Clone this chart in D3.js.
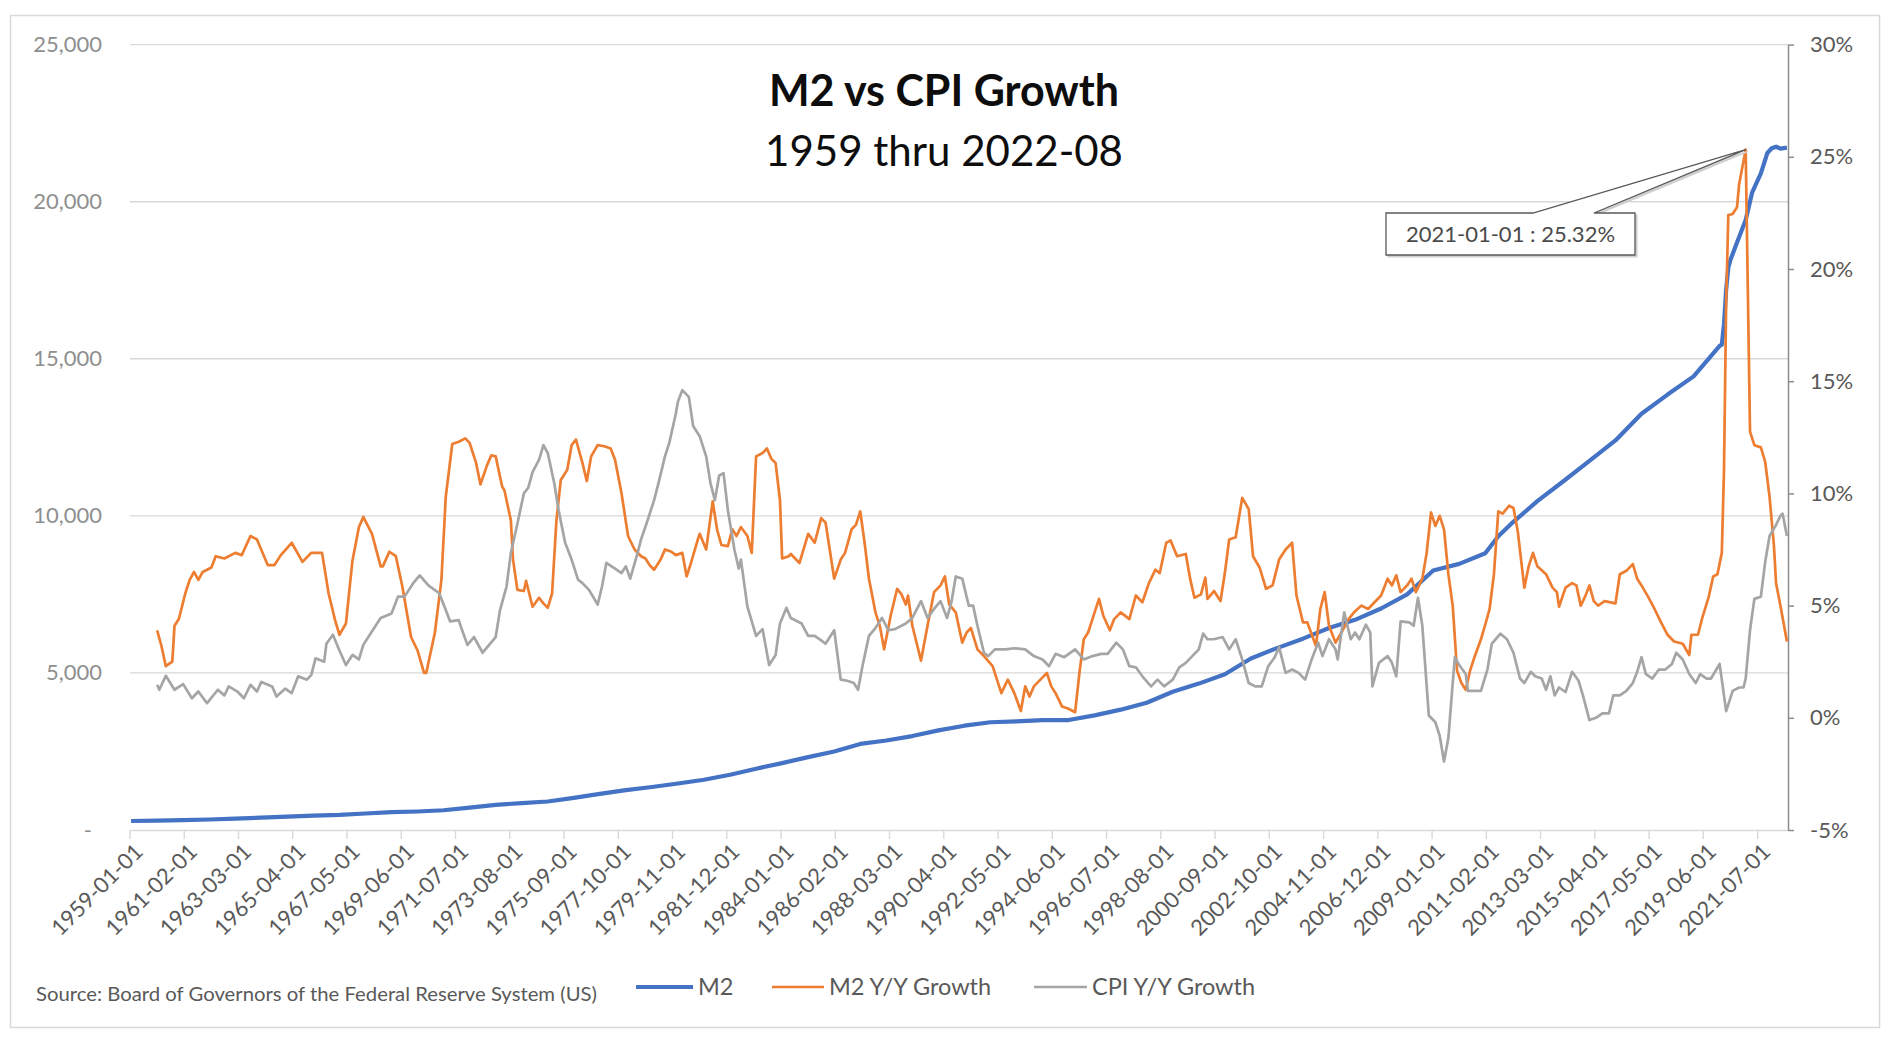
<!DOCTYPE html>
<html><head><meta charset="utf-8">
<script src="https://cdn.jsdelivr.net/npm/d3@7"></script>
<style>
body{margin:0;background:#fff}
svg{display:block}
text{font-family:Lato,"Open Sans","Noto Sans",sans-serif}
</style>
</head><body>
<svg id="chart" width="1892" height="1042"></svg>
<script>
// ---------------- DATA ----------------
const title = "M2 vs CPI Growth";
const subtitle = "1959 thru 2022-08";
const sourceNote = "Source: Board of Governors of the Federal Reserve System (US)";
const seriesNames = ["M2", "M2 Y/Y Growth", "CPI Y/Y Growth"];
const firstMonth = "1959-01", lastMonth = "2022-08";

const tickLabels = ["1959-01-01","1961-02-01","1963-03-01","1965-04-01","1967-05-01","1969-06-01","1971-07-01","1973-08-01","1975-09-01","1977-10-01","1979-11-01","1981-12-01","1984-01-01","1986-02-01","1988-03-01","1990-04-01","1992-05-01","1994-06-01","1996-07-01","1998-08-01","2000-09-01","2002-10-01","2004-11-01","2006-12-01","2009-01-01","2011-02-01","2013-03-01","2015-04-01","2017-05-01","2019-06-01","2021-07-01"];
const leftTicks = [0, 5000, 10000, 15000, 20000, 25000];
const leftTickLabels = ["-", "5,000", "10,000", "15,000", "20,000", "25,000"];
const rightTicks = [-5, 0, 5, 10, 15, 20, 25, 30];
const rightTickLabels = ["-5%", "0%", "5%", "10%", "15%", "20%", "25%", "30%"];

const calloutDate = "2021-01";
const calloutText = "2021-01-01 : 25.32%";

// M2 money stock, billions (left axis)
const m2Level = [["1959-01",287],["1960-01",298],["1961-01",313],["1962-01",335],["1963-01",363],["1964-01",393],["1965-01",424],["1966-01",459],["1967-01",481],["1968-01",525],["1969-01",567],["1970-01",589],["1971-01",628],["1972-01",710],["1973-01",802],["1974-01",856],["1975-01",908],["1976-01",1024],["1977-01",1150],["1978-01",1270],["1979-01",1370],["1980-01",1480],["1981-01",1600],["1982-01",1760],["1983-01",1950],["1984-01",2130],["1985-01",2320],["1986-01",2500],["1987-01",2740],["1988-01",2850],["1989-01",2990],["1990-01",3170],["1991-01",3320],["1992-01",3430],["1993-01",3460],["1994-01",3500],["1995-01",3500],["1996-01",3650],["1997-01",3830],["1998-01",4050],["1999-01",4400],["2000-01",4660],["2001-01",4960],["2002-01",5460],["2003-01",5790],["2004-01",6090],["2005-01",6430],["2006-01",6690],["2007-01",7050],["2008-01",7500],["2009-01",8260],["2010-01",8470],["2011-01",8810],["2011-07",9350],["2012-01",9750],["2013-01",10470],["2014-01",11100],["2015-01",11750],["2016-01",12400],["2017-01",13250],["2018-01",13860],["2019-01",14440],["2020-01",15410],["2020-02",15450],["2020-03",16100],["2020-04",17200],["2020-05",17900],["2020-06",18150],["2020-09",18700],["2021-01",19420],["2021-04",20300],["2021-08",20900],["2021-11",21550],["2022-01",21700],["2022-03",21750],["2022-05",21690],["2022-08",21720]];

// M2 year-over-year growth, % (right axis)
const m2Growth = [["1960-01",3.9],["1960-03",3.2],["1960-05",2.3],["1960-08",2.5],["1960-09",4.1],["1960-11",4.4],["1961-02",5.55],["1961-04",6.15],["1961-06",6.5],["1961-08",6.15],["1961-10",6.5],["1962-02",6.7],["1962-04",7.2],["1962-08",7.1],["1963-01",7.35],["1963-04",7.25],["1963-08",8.1],["1963-11",7.95],["1964-04",6.8],["1964-07",6.8],["1964-10",7.25],["1965-03",7.8],["1965-08",6.95],["1965-12",7.35],["1966-05",7.35],["1966-08",5.55],["1966-11",4.35],["1967-01",3.7],["1967-04",4.2],["1967-07",7.0],["1967-10",8.5],["1967-12",8.95],["1968-04",8.2],["1968-08",6.75],["1968-09",6.75],["1968-12",7.4],["1969-03",7.2],["1969-06",5.85],["1969-10",3.6],["1970-01",3.0],["1970-04",2.0],["1970-05",2.0],["1970-09",3.8],["1970-12",6.15],["1971-02",9.85],["1971-05",12.2],["1971-08",12.3],["1971-11",12.45],["1972-01",12.25],["1972-04",11.35],["1972-06",10.4],["1972-09",11.25],["1972-11",11.7],["1973-01",11.65],["1973-04",10.3],["1973-05",10.15],["1973-08",8.8],["1973-09",7.05],["1973-11",5.7],["1974-02",5.65],["1974-03",6.1],["1974-06",4.95],["1974-09",5.35],["1974-11",5.1],["1975-01",4.9],["1975-03",5.55],["1975-05",8.8],["1975-07",10.6],["1975-10",11.05],["1975-12",12.15],["1976-02",12.4],["1976-05",11.35],["1976-07",10.55],["1976-09",11.65],["1976-12",12.15],["1977-03",12.1],["1977-06",12.0],["1977-08",11.5],["1977-11",10.0],["1978-02",8.1],["1978-05",7.5],["1978-08",7.2],["1978-10",7.1],["1978-12",6.8],["1979-02",6.6],["1979-05",7.05],["1979-07",7.5],["1979-10",7.4],["1979-12",7.25],["1980-03",7.35],["1980-05",6.3],["1980-07",6.9],["1980-10",7.9],["1980-11",8.2],["1981-02",7.5],["1981-05",9.65],["1981-07",8.4],["1981-09",7.7],["1981-12",7.65],["1982-02",8.4],["1982-04",8.1],["1982-06",8.5],["1982-09",8.1],["1982-11",7.35],["1983-01",11.65],["1983-04",11.8],["1983-06",12.0],["1983-08",11.55],["1983-10",11.35],["1983-12",9.7],["1984-01",7.1],["1984-04",7.2],["1984-05",7.3],["1984-09",6.9],["1985-01",8.2],["1985-04",7.8],["1985-07",8.9],["1985-09",8.7],["1986-01",6.2],["1986-04",7.05],["1986-06",7.35],["1986-09",8.4],["1986-11",8.6],["1987-01",9.2],["1987-03",7.8],["1987-05",6.2],["1987-08",4.7],["1987-10",4.1],["1987-12",3.05],["1988-03",4.55],["1988-06",5.75],["1988-08",5.5],["1988-10",5.05],["1988-11",5.45],["1989-01",4.1],["1989-05",2.55],["1989-08",4.1],["1989-11",5.6],["1990-02",5.9],["1990-04",6.3],["1990-06",5.05],["1990-09",4.7],["1990-12",3.35],["1991-02",3.8],["1991-04",4.0],["1991-07",3.05],["1991-10",2.75],["1992-02",2.3],["1992-06",1.1],["1992-09",1.7],["1992-12",1.1],["1993-03",0.3],["1993-05",1.4],["1993-07",0.95],["1993-09",1.4],["1993-12",1.7],["1994-03",2.0],["1994-05",1.4],["1994-07",1.1],["1994-10",0.5],["1995-01",0.4],["1995-04",0.25],["1995-06",2.0],["1995-08",3.5],["1995-10",3.8],["1995-12",4.4],["1996-03",5.3],["1996-05",4.55],["1996-08",3.9],["1996-10",4.4],["1997-01",4.7],["1997-05",4.4],["1997-08",5.45],["1997-11",5.15],["1998-02",6.0],["1998-05",6.6],["1998-07",6.45],["1998-10",7.8],["1998-12",7.9],["1999-03",7.2],["1999-07",7.3],["1999-09",6.2],["1999-11",5.35],["2000-02",5.5],["2000-04",6.25],["2000-05",5.3],["2000-08",5.65],["2000-11",5.2],["2001-01",6.45],["2001-03",7.95],["2001-06",8.05],["2001-09",9.8],["2001-12",9.3],["2002-02",7.2],["2002-05",6.7],["2002-08",5.75],["2002-11",5.9],["2003-02",7.05],["2003-05",7.5],["2003-08",7.8],["2003-10",5.45],["2004-01",4.25],["2004-03",4.25],["2004-07",3.2],["2004-09",4.85],["2004-11",5.6],["2005-01",4.1],["2005-04",3.35],["2005-07",3.85],["2005-10",4.4],["2006-01",4.75],["2006-04",5.0],["2006-07",4.85],["2006-10",5.15],["2007-01",5.45],["2007-04",6.2],["2007-06",5.9],["2007-08",6.35],["2007-10",5.6],["2008-01",5.9],["2008-03",6.2],["2008-05",5.6],["2008-08",6.2],["2008-10",7.35],["2008-12",9.15],["2009-02",8.55],["2009-04",9.0],["2009-06",8.4],["2009-08",6.4],["2009-10",5.0],["2009-12",2.1],["2010-02",1.55],["2010-04",1.25],["2010-06",2.1],["2010-08",2.7],["2010-11",3.5],["2011-01",4.15],["2011-03",4.85],["2011-05",6.4],["2011-07",9.2],["2011-09",9.1],["2011-12",9.45],["2012-02",9.35],["2012-04",8.3],["2012-07",5.8],["2012-09",6.75],["2012-11",7.35],["2013-01",6.75],["2013-05",6.4],["2013-08",5.8],["2013-10",5.6],["2013-11",4.95],["2014-02",5.8],["2014-05",6.0],["2014-07",5.9],["2014-09",5.0],["2014-11",5.4],["2015-01",5.9],["2015-03",5.2],["2015-05",5.0],["2015-08",5.2],["2016-01",5.1],["2016-03",6.4],["2016-06",6.55],["2016-09",6.85],["2016-11",6.2],["2017-01",5.9],["2017-04",5.4],["2017-07",4.85],["2017-10",4.25],["2018-01",3.7],["2018-04",3.4],["2018-08",3.3],["2018-11",2.8],["2018-12",3.7],["2019-03",3.7],["2019-05",4.45],["2019-08",5.4],["2019-10",6.3],["2019-12",6.4],["2020-02",7.35],["2020-03",11.0],["2020-04",18.5],["2020-05",22.4],["2020-07",22.45],["2020-09",22.75],["2020-10",23.8],["2020-11",24.3],["2021-01",25.32],["2021-02",19.0],["2021-03",12.75],["2021-05",12.15],["2021-08",12.05],["2021-10",11.4],["2021-12",9.85],["2022-02",7.7],["2022-03",6.0],["2022-05",5.0],["2022-08",3.4]];

// CPI year-over-year growth, % (right axis)
const cpiGrowth = [["1960-01",1.47],["1960-02",1.25],["1960-05",1.87],["1960-09",1.25],["1961-01",1.5],["1961-05",0.87],["1961-08",1.17],["1961-12",0.65],["1962-05",1.25],["1962-08",1.0],["1962-10",1.4],["1963-02",1.17],["1963-05",0.87],["1963-08",1.47],["1963-11",1.17],["1964-01",1.6],["1964-06",1.4],["1964-08",0.95],["1964-12",1.3],["1965-03",1.1],["1965-06",1.85],["1965-10",1.7],["1965-12",1.9],["1966-02",2.65],["1966-06",2.5],["1966-07",3.3],["1966-10",3.7],["1967-01",3.0],["1967-04",2.35],["1967-07",2.8],["1967-10",2.6],["1967-12",3.25],["1968-05",4.0],["1968-08",4.45],["1969-01",4.65],["1969-04",5.4],["1969-07",5.4],["1969-11",6.0],["1970-02",6.35],["1970-06",5.9],["1970-11",5.55],["1971-04",4.3],["1971-08",4.35],["1971-09",4.05],["1971-12",3.25],["1972-03",3.6],["1972-07",2.9],["1973-01",3.6],["1973-03",4.8],["1973-06",5.85],["1973-08",7.35],["1973-11",8.65],["1974-02",10.0],["1974-04",10.25],["1974-06",10.95],["1974-09",11.5],["1974-11",12.15],["1975-01",11.8],["1975-04",10.45],["1975-06",9.25],["1975-09",7.8],["1975-12",7.05],["1976-03",6.15],["1976-05",6.0],["1976-08",5.7],["1976-12",5.05],["1977-02",5.85],["1977-04",6.9],["1977-08",6.65],["1977-11",6.45],["1978-01",6.75],["1978-03",6.2],["1978-06",7.2],["1978-08",7.95],["1978-11",8.8],["1979-02",9.7],["1979-04",10.45],["1979-07",11.65],["1979-09",12.25],["1979-12",13.55],["1980-01",14.1],["1980-03",14.6],["1980-06",14.3],["1980-08",13.0],["1980-11",12.55],["1981-02",11.65],["1981-04",10.45],["1981-06",9.7],["1981-08",10.8],["1981-10",10.9],["1981-12",9.25],["1982-03",7.5],["1982-05",6.65],["1982-06",7.05],["1982-09",4.95],["1983-01",3.65],["1983-04",3.95],["1983-07",2.35],["1983-10",2.8],["1983-12",4.2],["1984-03",4.9],["1984-05",4.45],["1984-10",4.2],["1985-01",3.65],["1985-04",3.65],["1985-07",3.45],["1985-09",3.3],["1986-01",3.9],["1986-04",1.7],["1986-07",1.65],["1986-10",1.55],["1986-12",1.25],["1987-02",2.3],["1987-05",3.65],["1987-08",4.0],["1987-11",4.45],["1988-02",3.9],["1988-05",3.95],["1988-10",4.2],["1989-01",4.45],["1989-05",5.2],["1989-08",4.45],["1989-11",4.85],["1990-02",5.2],["1990-05",4.45],["1990-07",5.15],["1990-09",6.3],["1990-12",6.2],["1991-03",5.0],["1991-05",5.0],["1991-07",4.1],["1991-10",2.9],["1991-12",2.75],["1992-03",3.05],["1992-08",3.05],["1992-12",3.1],["1993-05",3.05],["1993-09",2.75],["1994-01",2.6],["1994-04",2.3],["1994-07",2.85],["1994-11",2.7],["1995-04",3.05],["1995-08",2.6],["1995-12",2.75],["1996-04",2.85],["1996-07",2.85],["1996-11",3.35],["1997-02",3.05],["1997-05",2.3],["1997-08",2.25],["1997-11",1.85],["1998-03",1.4],["1998-06",1.7],["1998-09",1.4],["1999-01",1.7],["1999-04",2.25],["1999-07",2.45],["1999-10",2.75],["2000-01",3.05],["2000-03",3.75],["2000-05",3.5],["2000-08",3.5],["2000-12",3.6],["2001-03",3.05],["2001-06",3.5],["2001-09",2.6],["2001-12",1.55],["2002-03",1.4],["2002-06",1.4],["2002-09",2.3],["2002-12",2.7],["2003-02",3.15],["2003-05",2.0],["2003-08",2.15],["2003-11",2.0],["2004-02",1.7],["2004-05",2.6],["2004-08",3.35],["2004-10",2.75],["2005-01",3.5],["2005-04",3.05],["2005-05",2.6],["2005-08",4.7],["2005-11",3.5],["2006-01",3.8],["2006-03",3.5],["2006-06",4.15],["2006-08",3.8],["2006-09",1.4],["2006-12",2.45],["2007-04",2.75],["2007-06",2.45],["2007-08",1.85],["2007-10",4.3],["2008-02",4.25],["2008-04",4.1],["2008-06",5.35],["2008-08",4.1],["2008-11",0.1],["2009-02",-0.2],["2009-04",-0.8],["2009-06",-1.95],["2009-08",-0.9],["2009-10",1.55],["2009-11",2.7],["2010-01",2.35],["2010-04",1.95],["2010-05",1.2],["2010-08",1.2],["2010-11",1.2],["2011-02",2.15],["2011-04",3.3],["2011-08",3.75],["2011-11",3.5],["2012-02",2.9],["2012-05",1.75],["2012-07",1.55],["2012-10",2.05],["2012-12",1.85],["2013-03",1.75],["2013-05",1.25],["2013-07",1.85],["2013-09",1.0],["2013-11",1.35],["2014-02",1.15],["2014-05",2.05],["2014-08",1.65],["2014-10",1.0],["2015-01",-0.1],["2015-04",0.0],["2015-07",0.2],["2015-10",0.2],["2015-12",1.0],["2016-03",1.0],["2016-06",1.2],["2016-09",1.55],["2016-11",2.05],["2017-01",2.7],["2017-03",1.95],["2017-06",1.75],["2017-09",2.15],["2017-12",2.15],["2018-03",2.4],["2018-05",2.9],["2018-08",2.6],["2018-11",1.95],["2019-02",1.55],["2019-04",1.95],["2019-07",1.75],["2019-09",1.75],["2020-01",2.4],["2020-03",1.0],["2020-04",0.3],["2020-07",1.2],["2020-10",1.35],["2020-12",1.35],["2021-01",1.75],["2021-03",3.9],["2021-05",5.3],["2021-08",5.4],["2021-10",6.95],["2021-12",8.1],["2022-03",8.6],["2022-05",9.0],["2022-06",9.1],["2022-07",8.6],["2022-08",8.1]];

const colors = {m2: "#4472C4", m2g: "#ED7D31", cpi: "#A5A5A5"};

// ---------------- CHART ----------------
const svg = d3.select("#chart");
const plot = {left: 130, right: 1788, top: 44.6, bottom: 830};

const fmtM = d3.timeFormat("%Y-%m");
const parseM = d3.timeParse("%Y-%m");
const months = d3.timeMonths(parseM(firstMonth), d3.timeMonth.offset(parseM(lastMonth), 1)).map(fmtM);

const x = d3.scaleBand().domain(months).range([plot.left, plot.right]).padding(0);
const bw = x.bandwidth();
const cx = m => x(m) + bw / 2;
const yL = d3.scaleLinear().domain([0, 25000]).range([plot.bottom, plot.top]);
const yR = d3.scaleLinear().domain([-5, 30]).range([plot.bottom, plot.top]);

// outer border
svg.append("rect").attr("x", 10.5).attr("y", 15.5).attr("width", 1869).attr("height", 1012)
  .attr("fill", "#fff").attr("stroke", "#d9d9d9").attr("stroke-width", 1.5);

// gridlines
svg.append("g").selectAll("line").data(leftTicks.filter(d => d > 0)).join("line")
  .attr("x1", plot.left).attr("x2", plot.right)
  .attr("y1", d => yL(d)).attr("y2", d => yL(d))
  .attr("stroke", "#d9d9d9").attr("stroke-width", 1.4);

// left axis labels
const gL = svg.append("g").attr("transform", `translate(${plot.left},0)`)
  .call(d3.axisLeft(yL).tickValues(leftTicks).tickSize(0).tickPadding(28)
    .tickFormat((d, i) => leftTickLabels[i]));
gL.select(".domain").remove();
gL.selectAll("text").attr("fill", "#8f8f8f").attr("font-size", 22)
  .attr("font-family", "Lato, sans-serif")
  .attr("x", d => d === 0 ? -38 : -28);

// bottom axis
const tickMonths = tickLabels.map(s => s.slice(0, 7));
const gB = svg.append("g").attr("transform", `translate(0,${plot.bottom})`)
  .call(d3.axisBottom(x).tickValues(tickMonths).tickSize(9).tickSizeOuter(0)
    .tickFormat((d, i) => tickLabels[i]));
gB.select(".domain").attr("stroke", "#d9d9d9").attr("stroke-width", 1.6);
gB.selectAll(".tick line").attr("stroke", "#d9d9d9").attr("stroke-width", 1.4)
  .attr("transform", `translate(${-bw / 2},0)`);
gB.selectAll(".tick text")
  .attr("x", null).attr("y", null).attr("dy", "0.72em")
  .attr("text-anchor", "end")
  .attr("transform", `translate(${-bw / 2 + 3},12) rotate(-45)`)
  .attr("fill", "#595959").attr("font-size", 22).attr("font-family", "Lato, sans-serif");

// right axis
const gR = svg.append("g").attr("transform", `translate(${plot.right},0)`)
  .call(d3.axisRight(yR).tickValues(rightTicks).tickSize(6).tickSizeOuter(0).tickPadding(16)
    .tickFormat((d, i) => rightTickLabels[i]));
gR.select(".domain").attr("stroke", "#8c8c8c").attr("stroke-width", 1.5);
gR.selectAll(".tick line").attr("stroke", "#8c8c8c").attr("stroke-width", 1.5);
gR.selectAll(".tick text").attr("fill", "#595959").attr("font-size", 22)
  .attr("font-family", "Lato, sans-serif");

// series lines
const lineL = d3.line().x(d => cx(d[0])).y(d => yL(d[1]));
const lineR = d3.line().x(d => cx(d[0])).y(d => yR(d[1]));
svg.append("path").datum(m2Level).attr("d", lineL).attr("fill", "none")
  .attr("stroke", colors.m2).attr("stroke-width", 4.2).attr("stroke-linejoin", "round");
svg.append("path").datum(m2Growth).attr("d", lineR).attr("fill", "none")
  .attr("stroke", colors.m2g).attr("stroke-width", 2.7).attr("stroke-linejoin", "round");
svg.append("path").datum(cpiGrowth).attr("d", lineR).attr("fill", "none")
  .attr("stroke", colors.cpi).attr("stroke-width", 2.7).attr("stroke-linejoin", "round");

// callout
const peak = m2Growth.find(d => d[0] === calloutDate);
const px = cx(peak[0]), py = yR(peak[1]);
const box = {x0: 1386, x1: 1635, y0: 213, y1: 255, w0: 1533, w1: 1594};
const calloutPath = `M${box.x0},${box.y0} L${box.w0},${box.y0} L${px},${py} L${box.w1},${box.y0} L${box.x1},${box.y0} L${box.x1},${box.y1} L${box.x0},${box.y1} Z`;
svg.append("path").attr("d", calloutPath).attr("transform", "translate(2,2)")
  .attr("fill", "#d0d0d0").attr("stroke", "#cfcfcf").attr("stroke-width", 1.2);
svg.append("path").attr("d", calloutPath).attr("fill", "#fff")
  .attr("stroke", "#595959").attr("stroke-width", 1.3).attr("stroke-linejoin", "miter");
svg.append("text").attr("x", (box.x0 + box.x1) / 2).attr("y", (box.y0 + box.y1) / 2)
  .attr("dy", "0.35em").attr("text-anchor", "middle")
  .attr("font-size", 22).attr("fill", "#4a4a4a").text(calloutText);

// title
svg.append("text").attr("x", 944).attr("y", 106).attr("text-anchor", "middle")
  .attr("font-size", 43).attr("font-weight", 700).attr("fill", "#0d0d0d").text(title);
svg.append("text").attr("x", 944).attr("y", 166).attr("text-anchor", "middle")
  .attr("font-size", 42).attr("fill", "#0d0d0d").text(subtitle);

// source
svg.append("text").attr("x", 36).attr("y", 995).attr("dy", "0.35em")
  .attr("font-size", 18.5).attr("fill", "#595959")
  .attr("textLength", 561).attr("lengthAdjust", "spacingAndGlyphs").text(sourceNote);

// legend
const legendItems = [
  {name: seriesNames[0], color: colors.m2, x0: 636, x1: 693, w: 4.2},
  {name: seriesNames[1], color: colors.m2g, x0: 772, x1: 824, w: 2.7},
  {name: seriesNames[2], color: colors.cpi, x0: 1034, x1: 1087, w: 2.7}
];
const lg = svg.append("g");
legendItems.forEach(it => {
  lg.append("line").attr("x1", it.x0).attr("x2", it.x1).attr("y1", 987).attr("y2", 987)
    .attr("stroke", it.color).attr("stroke-width", it.w);
  lg.append("text").attr("x", it.x1 + 5).attr("y", 987).attr("dy", "0.35em")
    .attr("font-size", 23.5).attr("fill", "#595959").text(it.name);
});
</script>
</body></html>
